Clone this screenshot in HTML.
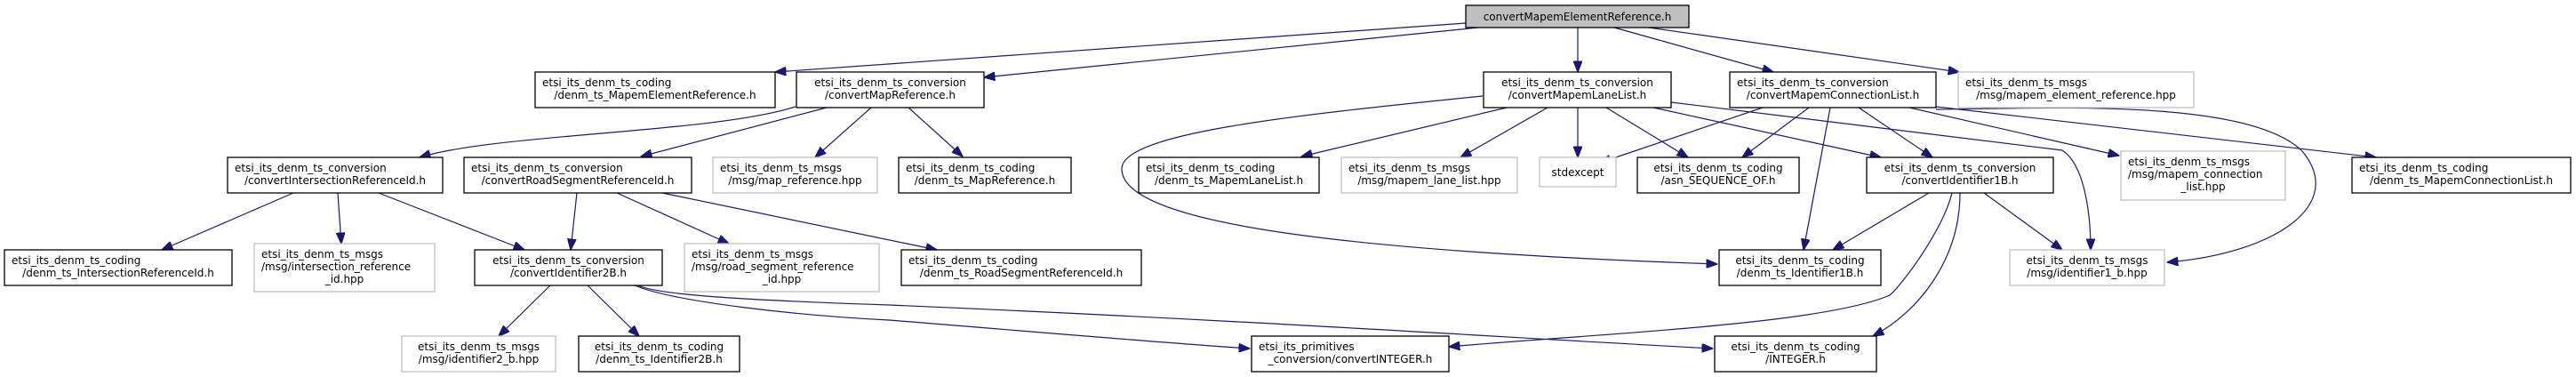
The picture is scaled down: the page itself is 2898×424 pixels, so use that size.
<!DOCTYPE html>
<html><head><meta charset="utf-8"><style>
html,body{margin:0;padding:0;background:#fff;}
svg{display:block;}
text{font-family:"DejaVu Sans","Liberation Sans",sans-serif;font-size:12px;fill:#000;}
.e{fill:none;stroke:#191970;stroke-width:1.2;marker-end:url(#a);}
.n{fill:#fff;stroke:#000;stroke-width:1.3;}
.g{fill:#fff;stroke:#bfbfbf;stroke-width:1.3;}
</style></head><body>
<svg width="2898" height="424" viewBox="0 0 2898 424" xmlns="http://www.w3.org/2000/svg">
<defs><marker id="a" markerWidth="13" markerHeight="10" refX="12.5" refY="5" orient="auto" markerUnits="userSpaceOnUse"><path d="M0,0 L13,5 L0,10 z" fill="#191970" stroke="#191970"/></marker></defs>

<!-- edges -->
<path class="e" d="M1649,26 L872,81"/>
<path class="e" d="M1663,31 L1107,87"/>
<path class="e" d="M1775,31 L1775,81"/>
<path class="e" d="M1816,31 L1995,81"/>
<path class="e" d="M1855,31 L2204,81"/>

<path class="e" d="M895,120 C800,150 560,150 472,177"/>
<path class="e" d="M930,121 L721,176"/>
<path class="e" d="M980,121 L917,177"/>
<path class="e" d="M1022,121 L1083,176"/>

<path class="e" d="M330,217 L182,281"/>
<path class="e" d="M380,217 L384,274"/>
<path class="e" d="M426,217 L590,281"/>
<path class="e" d="M649,217 L642,281"/>
<path class="e" d="M694,217 L820,274"/>
<path class="e" d="M745,217 L1054,281"/>

<path class="e" d="M619,321 L561,378"/>
<path class="e" d="M661,321 L719,378"/>
<path class="e" d="M714,321 C760,340 900,355 1000,360 C1150,372 1300,385 1406,392"/>
<path class="e" d="M718,321 C740,332 850,338 1000,343 C1400,360 1700,380 1927,392"/>

<path class="e" d="M1668,108 C1450,130 1262,150 1262,190 C1262,250 1500,282 1932,297"/>
<path class="e" d="M1695,121 L1464,176"/>
<path class="e" d="M1741,121 L1643,177"/>
<path class="e" d="M1775,121 L1775,177"/>
<path class="e" d="M1807,121 L1899,177"/>
<path class="e" d="M1860,121 L2116,177"/>
<path class="e" d="M1880,115 L2320,169 C2345,185 2352,240 2352,281"/>

<path class="e" d="M1983,121 L1800,183"/>
<path class="e" d="M2035,121 L1960,177"/>
<path class="e" d="M2059,121 L2029,281"/>
<path class="e" d="M2091,121 L2174,177"/>
<path class="e" d="M2148,121 L2384,175"/>
<path class="e" d="M2178,120 L2673,177"/>
<path class="e" d="M2178,123 C2300,122 2530,110 2590,170 C2640,230 2560,285 2438,295"/>

<path class="e" d="M2170,217 L2062,281"/>
<path class="e" d="M2196,217 C2185,260 2140,320 2126,332 C2050,365 1800,375 1630,390"/>
<path class="e" d="M2205,217 C2205,290 2160,350 2107,378"/>
<path class="e" d="M2232,217 L2320,281"/>

<!-- nodes -->
<rect x="1649" y="6" width="251" height="25" fill="#bfbfbf" stroke="#000" stroke-width="1.3"/>
<text x="1774.5" y="23" text-anchor="middle">convertMapemElementReference.h</text>

<rect class="n" x="602" y="81" width="270" height="40"/>
<text x="610" y="97">etsi_its_denm_ts_coding</text><text x="737" y="111" text-anchor="middle">/denm_ts_MapemElementReference.h</text>

<rect class="n" x="896" y="81" width="211" height="40"/>
<text x="1001.5" y="97" text-anchor="middle">etsi_its_denm_ts_conversion</text><text x="1001.5" y="111" text-anchor="middle">/convertMapReference.h</text>

<rect class="n" x="1669" y="81" width="211" height="40"/>
<text x="1774.5" y="97" text-anchor="middle">etsi_its_denm_ts_conversion</text><text x="1774.5" y="111" text-anchor="middle">/convertMapemLaneList.h</text>

<rect class="n" x="1946" y="81" width="232" height="40"/>
<text x="1954" y="97">etsi_its_denm_ts_conversion</text><text x="2062" y="111" text-anchor="middle">/convertMapemConnectionList.h</text>

<rect class="g" x="2203" y="81" width="265" height="40"/>
<text x="2211" y="97">etsi_its_denm_ts_msgs</text><text x="2335.5" y="111" text-anchor="middle">/msg/mapem_element_reference.hpp</text>

<rect class="n" x="256" y="177" width="242" height="40"/>
<text x="264" y="193">etsi_its_denm_ts_conversion</text><text x="377" y="207" text-anchor="middle">/convertIntersectionReferenceId.h</text>

<rect class="n" x="522" y="177" width="256" height="40"/>
<text x="530" y="193">etsi_its_denm_ts_conversion</text><text x="650" y="207" text-anchor="middle">/convertRoadSegmentReferenceId.h</text>

<rect class="g" x="802" y="177" width="185" height="40"/>
<text x="810" y="193">etsi_its_denm_ts_msgs</text><text x="894.5" y="207" text-anchor="middle">/msg/map_reference.hpp</text>

<rect class="n" x="1011" y="177" width="194" height="40"/>
<text x="1019" y="193">etsi_its_denm_ts_coding</text><text x="1108" y="207" text-anchor="middle">/denm_ts_MapReference.h</text>

<rect class="n" x="1281" y="177" width="203" height="40"/>
<text x="1289" y="193">etsi_its_denm_ts_coding</text><text x="1382.5" y="207" text-anchor="middle">/denm_ts_MapemLaneList.h</text>

<rect class="g" x="1509" y="177" width="198" height="40"/>
<text x="1517" y="193">etsi_its_denm_ts_msgs</text><text x="1608" y="207" text-anchor="middle">/msg/mapem_lane_list.hpp</text>

<rect class="g" x="1732" y="177" width="86" height="33"/>
<text x="1775" y="198" text-anchor="middle">stdexcept</text>

<rect class="n" x="1842" y="177" width="182" height="40"/>
<text x="1933" y="193" text-anchor="middle">etsi_its_denm_ts_coding</text><text x="1933" y="207" text-anchor="middle">/asn_SEQUENCE_OF.h</text>

<rect class="n" x="2100" y="177" width="210" height="40"/>
<text x="2205" y="193" text-anchor="middle">etsi_its_denm_ts_conversion</text><text x="2205" y="207" text-anchor="middle">/convertIdentifier1B.h</text>

<rect class="g" x="2386" y="170" width="185" height="55"/>
<text x="2394" y="186">etsi_its_denm_ts_msgs</text><text x="2394" y="200">/msg/mapem_connection</text><text x="2478.5" y="214" text-anchor="middle">_list.hpp</text>

<rect class="n" x="2646" y="177" width="246" height="40"/>
<text x="2654" y="193">etsi_its_denm_ts_coding</text><text x="2769" y="207" text-anchor="middle">/denm_ts_MapemConnectionList.h</text>

<rect class="n" x="5" y="281" width="256" height="40"/>
<text x="13" y="297">etsi_its_denm_ts_coding</text><text x="133" y="311" text-anchor="middle">/denm_ts_IntersectionReferenceId.h</text>

<rect class="g" x="286" y="274" width="203" height="54"/>
<text x="294" y="290">etsi_its_denm_ts_msgs</text><text x="294" y="304">/msg/intersection_reference</text><text x="387.5" y="318" text-anchor="middle">_id.hpp</text>

<rect class="n" x="534" y="281" width="211" height="40"/>
<text x="639.5" y="297" text-anchor="middle">etsi_its_denm_ts_conversion</text><text x="639.5" y="311" text-anchor="middle">/convertIdentifier2B.h</text>

<rect class="g" x="770" y="274" width="219" height="54"/>
<text x="778" y="290">etsi_its_denm_ts_msgs</text><text x="778" y="304">/msg/road_segment_reference</text><text x="879.5" y="318" text-anchor="middle">_id.hpp</text>

<rect class="n" x="1014" y="281" width="270" height="40"/>
<text x="1022" y="297">etsi_its_denm_ts_coding</text><text x="1149" y="311" text-anchor="middle">/denm_ts_RoadSegmentReferenceId.h</text>

<rect class="n" x="1934" y="281" width="182" height="40"/>
<text x="2025" y="297" text-anchor="middle">etsi_its_denm_ts_coding</text><text x="2025" y="311" text-anchor="middle">/denm_ts_Identifier1B.h</text>

<rect class="g" x="2261" y="281" width="174" height="40"/>
<text x="2348" y="297" text-anchor="middle">etsi_its_denm_ts_msgs</text><text x="2348" y="311" text-anchor="middle">/msg/identifier1_b.hpp</text>

<rect class="g" x="452" y="378" width="173" height="40"/>
<text x="538.5" y="394" text-anchor="middle">etsi_its_denm_ts_msgs</text><text x="538.5" y="408" text-anchor="middle">/msg/identifier2_b.hpp</text>

<rect class="n" x="651" y="378" width="181" height="40"/>
<text x="741.5" y="394" text-anchor="middle">etsi_its_denm_ts_coding</text><text x="741.5" y="408" text-anchor="middle">/denm_ts_Identifier2B.h</text>

<rect class="n" x="1408" y="378" width="222" height="40"/>
<text x="1416" y="394">etsi_its_primitives</text><text x="1519" y="408" text-anchor="middle">_conversion/convertINTEGER.h</text>

<rect class="n" x="1929" y="378" width="182" height="40"/>
<text x="2020" y="394" text-anchor="middle">etsi_its_denm_ts_coding</text><text x="2020" y="408" text-anchor="middle">/INTEGER.h</text>
</svg>
</body></html>
